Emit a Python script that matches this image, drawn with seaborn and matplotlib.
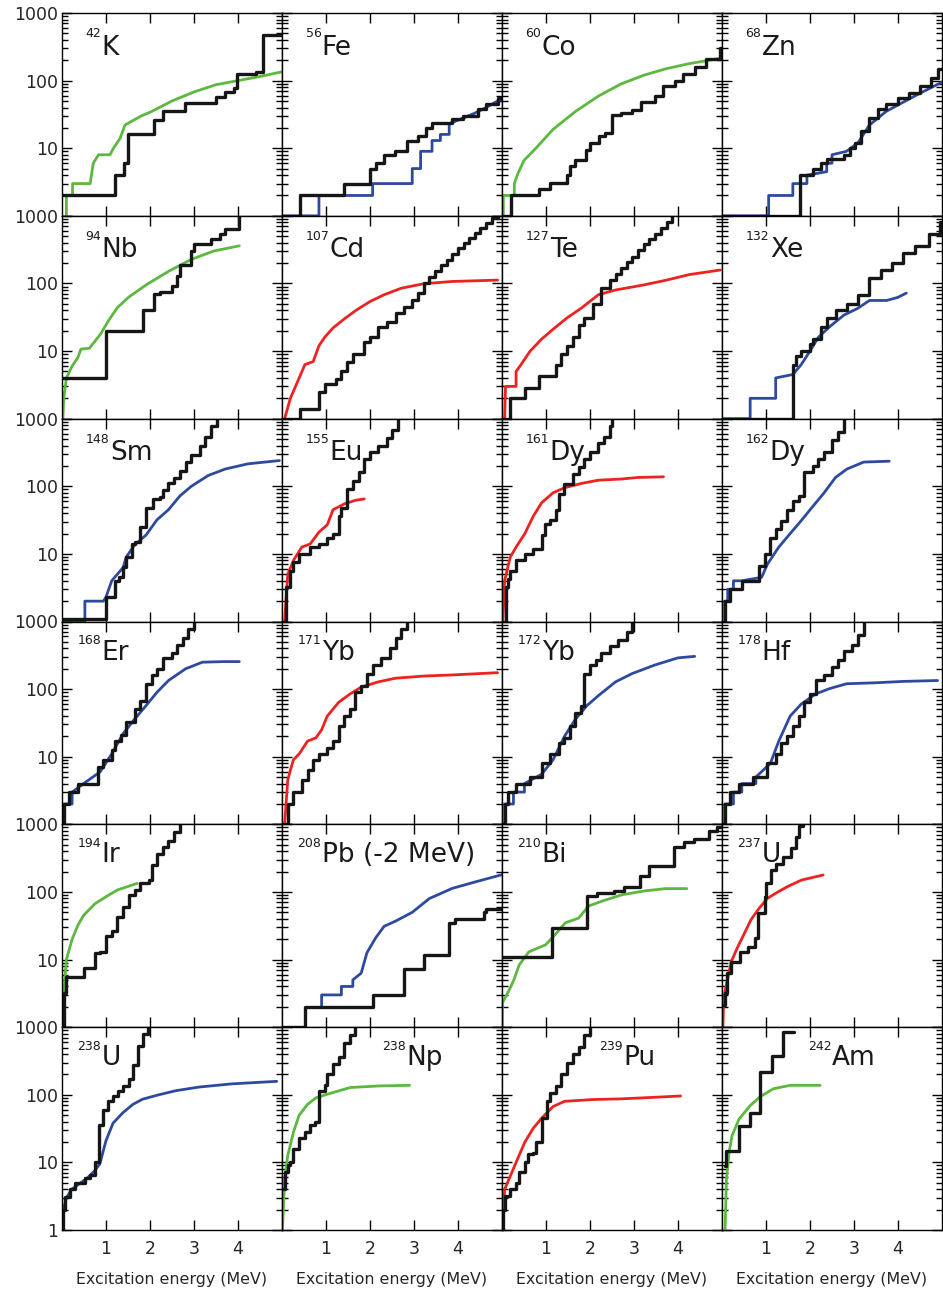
import numpy as np
import matplotlib
matplotlib.use("Agg")
import matplotlib.pyplot as plt
import seaborn as sns
from matplotlib.ticker import FixedLocator, LogLocator, NullFormatter

sns.set_style("ticks")
plt.rcParams['font.family'] = ['DejaVu Sans']

# ---------------- data: cumulative number of levels N(E) ----------------
# experimental (black staircases) and model (coloured curves)
K42_exp_E = [0, 1.2, 1.4, 1.49, 2.1, 2.3, 2.8, 3.5, 3.7, 3.9, 3.98, 4.4, 4.57, 5.0]
K42_exp_N = [2, 4, 6, 16, 26, 36, 47, 57, 68, 78, 124, 135, 480, 480]
K42_th_E = [0.1, 0.1, 0.24, 0.24, 0.64, 0.71, 0.83, 1.09, 1.17, 1.32, 1.43, 1.58, 1.8, 2.0, 2.5, 3.0, 3.5, 4.0, 4.5, 5.0]
K42_th_N = [1, 2, 2, 3, 3, 6, 8, 8, 10, 14, 22, 25, 30, 34, 50, 68, 87, 100, 115, 135]

Fe56_exp_E = [0, 0.41, 1.42, 2.0, 2.13, 2.32, 2.57, 2.83, 3.1, 3.28, 3.41, 3.86, 4.12, 4.45, 4.64, 4.9, 5.0]
Fe56_exp_N = [1, 2, 3, 5, 6, 8, 9, 13, 15, 20, 24, 27, 30, 38, 45, 55, 55]
Fe56_th_E = [0, 0.84, 0.84, 2.06, 2.06, 2.96, 2.96, 3.15, 3.15, 3.41, 3.41, 3.6, 3.6, 3.8, 3.8, 4.12, 4.38, 4.64, 4.9, 5.0]
Fe56_th_N = [1, 1, 2, 2, 3, 3, 5, 5, 9, 9, 13, 13, 16, 16, 23, 28, 33, 40, 50, 52]

Co60_exp_E = [0, 0.2, 0.84, 1.1, 1.48, 1.55, 1.67, 1.9, 2.0, 2.2, 2.35, 2.51, 2.7, 2.96, 3.15, 3.47, 3.67, 3.93, 4.12, 4.38, 4.64, 4.95, 5.0]
Co60_exp_N = [1, 2, 2.5, 3.1, 4, 5.5, 6.6, 9.3, 12, 15, 17, 31, 33, 37, 48, 60, 82, 100, 125, 160, 210, 300, 300]
Co60_th_E = [0.03, 0.03, 0.28, 0.28, 0.36, 0.5, 0.77, 1.16, 1.67, 2.19, 2.7, 3.22, 3.73, 4.25, 4.95]
Co60_th_N = [1, 2, 2, 3, 4.2, 6.6, 10, 19, 35, 59, 89, 120, 150, 178, 213]

Zn68_exp_E = [0, 1.78, 2.06, 2.25, 2.38, 2.77, 2.9, 3.02, 3.15, 3.35, 3.54, 3.73, 3.99, 4.25, 4.5, 4.76, 4.9, 5.0]
Zn68_exp_N = [1, 4, 5, 6, 7, 8, 10, 12, 18, 28, 38, 45, 55, 65, 84, 110, 150, 150]
Zn68_th_E = [0, 1.06, 1.06, 1.61, 1.61, 1.93, 1.93, 2.38, 2.38, 2.5, 2.5, 2.83, 3.09, 3.35, 3.73, 4.12, 4.5, 5.0]
Zn68_th_N = [1, 1, 2, 2, 3, 3, 4, 4.5, 6, 6, 8, 9, 12, 22, 35, 48, 65, 95]

Nb94_exp_E = [0, 1.0, 1.84, 2.1, 2.23, 2.49, 2.62, 2.68, 2.94, 3.0, 3.39, 3.58, 3.71, 4.03]
Nb94_exp_N = [4, 20, 40, 69, 75, 93, 130, 190, 300, 380, 450, 540, 640, 1100]
Nb94_th_E = [0.02, 0.04, 0.1, 0.23, 0.36, 0.43, 0.62, 0.75, 0.88, 1.07, 1.26, 1.52, 1.91, 2.42, 2.94, 3.45, 4.03]
Nb94_th_N = [1, 2, 4, 6, 8, 10.7, 11, 14, 18, 29, 44, 63, 95, 151, 227, 302, 360]

Cd107_exp_E = [0, 0.41, 0.84, 0.97, 1.22, 1.35, 1.48, 1.61, 1.87, 2.0, 2.19, 2.38, 2.58, 2.77, 2.96, 3.09, 3.22, 3.35, 3.48, 3.61, 3.74, 3.87, 4.0, 4.13, 4.25, 4.38, 4.51, 4.64, 4.77, 4.9]
Cd107_exp_N = [1, 1.4, 2.5, 3.3, 3.8, 5, 6.8, 9, 13.5, 16, 23, 27, 36, 45, 57, 72, 100, 125, 155, 185, 225, 275, 335, 400, 470, 560, 650, 780, 920, 1100]
Cd107_th_E = [0.06, 0.19, 0.39, 0.52, 0.71, 0.84, 0.97, 1.16, 1.42, 1.68, 2.0, 2.32, 2.71, 3.22, 3.87, 4.9]
Cd107_th_N = [1, 2, 4, 6.3, 7, 12, 16, 22, 30, 40, 54, 68, 85, 99, 107, 112]

Te127_exp_E = [0, 0.19, 0.52, 0.84, 1.22, 1.35, 1.48, 1.61, 1.74, 1.87, 2.06, 2.26, 2.45, 2.58, 2.71, 2.84, 2.96, 3.09, 3.22, 3.35, 3.48, 3.61, 3.74, 3.87]
Te127_exp_N = [1, 2, 2.8, 4.3, 6.2, 9, 12, 16, 24, 31, 50, 85, 114, 140, 170, 205, 250, 310, 380, 450, 540, 650, 800, 1100]
Te127_th_E = [0.06, 0.08, 0.32, 0.32, 0.41, 0.64, 0.9, 1.16, 1.48, 1.8, 2.19, 2.58, 3.22, 3.74, 4.25, 4.96]
Te127_th_N = [1, 3, 3, 5, 6, 10, 15, 21, 31, 43, 68, 80, 95, 112, 135, 158]

Xe132_exp_E = [0, 1.61, 1.68, 1.8, 2.0, 2.06, 2.26, 2.38, 2.58, 2.84, 3.09, 3.35, 3.61, 3.87, 4.12, 4.38, 4.7, 4.96, 5.0]
Xe132_exp_N = [1, 6.3, 8.5, 10, 12.6, 15, 23, 31, 40, 50, 68, 120, 160, 200, 280, 355, 540, 800, 800]
Xe132_th_E = [0, 0.64, 0.64, 1.22, 1.22, 1.61, 1.8, 2.0, 2.19, 2.45, 2.77, 3.09, 3.35, 3.74, 3.99, 4.19]
Xe132_th_N = [1, 1, 2, 2, 4, 4.5, 6.3, 10, 16, 23, 34, 43, 56, 56, 62, 72]

Sm148_exp_E = [0, 1.0, 1.2, 1.29, 1.39, 1.46, 1.58, 1.65, 1.78, 1.91, 2.06, 2.23, 2.29, 2.42, 2.55, 2.68, 2.81, 2.94, 3.13, 3.26, 3.39, 3.52]
Sm148_exp_N = [1.1, 2.3, 4, 4.5, 6.3, 9, 14, 15, 25, 48, 65, 70, 89, 113, 134, 170, 228, 288, 400, 540, 770, 1100]
Sm148_th_E = [0, 0.52, 0.52, 0.94, 1.0, 1.13, 1.39, 1.46, 1.65, 1.91, 2.16, 2.42, 2.68, 2.94, 3.32, 3.71, 4.23, 4.94]
Sm148_th_N = [1, 1, 2, 2, 2.3, 4, 6.3, 9, 13.5, 19, 32, 45, 72, 100, 144, 180, 215, 240]

Eu155_exp_E = [0, 0.1, 0.19, 0.26, 0.39, 0.64, 0.84, 1.03, 1.16, 1.29, 1.35, 1.48, 1.61, 1.74, 1.87, 2.0, 2.19, 2.38, 2.51, 2.64]
Eu155_exp_N = [1, 3.2, 5.6, 7.5, 10, 12.6, 14, 17, 20, 36, 48, 90, 120, 160, 250, 320, 400, 510, 680, 1100]
Eu155_th_E = [0.06, 0.13, 0.26, 0.45, 0.64, 0.84, 1.03, 1.16, 1.42, 1.67, 1.87]
Eu155_th_N = [1, 5, 8, 12.6, 14, 21, 27, 45, 55, 62, 65]

Dy161_exp_E = [0, 0.1, 0.13, 0.19, 0.32, 0.52, 0.71, 0.9, 0.97, 1.1, 1.22, 1.29, 1.42, 1.61, 1.74, 1.87, 2.0, 2.19, 2.32, 2.45, 2.51]
Dy161_exp_N = [1, 3.2, 4.2, 5.6, 8, 10, 12, 19, 28, 32, 45, 76, 107, 150, 190, 254, 320, 430, 540, 770, 1100]
Dy161_th_E = [0.02, 0.06, 0.13, 0.19, 0.32, 0.52, 0.71, 0.9, 1.16, 1.42, 1.8, 2.19, 2.71, 3.09, 3.67]
Dy161_th_N = [1, 4, 6.3, 9, 12.6, 20, 36, 57, 80, 95, 110, 123, 128, 135, 138]

Dy162_exp_E = [0, 0.06, 0.19, 0.45, 0.84, 0.97, 1.1, 1.22, 1.35, 1.48, 1.61, 1.74, 1.87, 2.06, 2.19, 2.32, 2.51, 2.64, 2.77]
Dy162_exp_N = [1, 2, 3, 4, 6.6, 10, 17, 23, 31, 45, 60, 72, 160, 200, 250, 320, 480, 640, 1100]
Dy162_th_E = [0.06, 0.06, 0.13, 0.13, 0.26, 0.26, 0.45, 0.9, 1.03, 1.29, 1.55, 1.8, 2.06, 2.32, 2.58, 2.84, 3.22, 3.8]
Dy162_th_N = [1, 2, 2, 3, 3, 4, 4, 4.5, 7, 12.6, 20, 31, 50, 80, 135, 180, 228, 235]

Er168_exp_E = [0, 0.04, 0.17, 0.36, 0.81, 0.94, 1.13, 1.2, 1.33, 1.46, 1.65, 1.78, 1.91, 2.04, 2.16, 2.29, 2.49, 2.62, 2.74, 2.87, 3.0]
Er168_exp_N = [1, 2, 3, 4, 7, 9, 12.6, 17, 21, 33, 50, 67, 120, 160, 200, 290, 340, 455, 575, 770, 1100]
Er168_th_E = [0.04, 0.04, 0.23, 0.23, 0.49, 0.87, 1.13, 1.39, 1.65, 1.91, 2.16, 2.42, 2.81, 3.19, 3.65, 4.03]
Er168_th_N = [1, 2, 2, 3, 4, 6, 11, 22, 36, 57, 90, 134, 200, 250, 255, 255]

Yb171_exp_E = [0, 0.13, 0.26, 0.45, 0.58, 0.71, 0.84, 1.03, 1.16, 1.29, 1.42, 1.55, 1.67, 1.8, 1.93, 2.06, 2.26, 2.45, 2.58, 2.71, 2.84]
Yb171_exp_N = [1, 2, 3, 4.5, 6.3, 9, 11, 13.5, 17, 28, 40, 50, 90, 113, 170, 228, 290, 400, 575, 770, 1100]
Yb171_th_E = [0.06, 0.13, 0.19, 0.26, 0.39, 0.58, 0.77, 0.9, 1.03, 1.29, 1.55, 1.8, 2.19, 2.58, 3.22, 3.87, 4.9]
Yb171_th_N = [1, 4.5, 6.3, 9, 11, 17, 19, 25, 40, 64, 85, 107, 128, 145, 156, 162, 175]

Yb172_exp_E = [0, 0.06, 0.13, 0.32, 0.64, 0.9, 1.1, 1.29, 1.42, 1.55, 1.67, 1.8, 1.87, 2.0, 2.13, 2.26, 2.45, 2.64, 2.84, 2.96]
Yb172_exp_N = [1, 2, 3, 4, 5, 8, 11, 16, 19, 28, 45, 57, 170, 228, 270, 340, 430, 540, 700, 1100]
Yb172_th_E = [0.06, 0.06, 0.26, 0.26, 0.51, 0.51, 0.9, 1.16, 1.42, 1.67, 1.93, 2.19, 2.58, 2.96, 3.48, 4.0, 4.38]
Yb172_th_N = [1, 2, 2, 3, 3, 4, 5.5, 9, 20, 36, 57, 80, 128, 170, 228, 290, 305]

Hf178_exp_E = [0, 0.06, 0.19, 0.39, 0.71, 1.03, 1.22, 1.35, 1.48, 1.61, 1.74, 1.87, 2.0, 2.13, 2.32, 2.51, 2.64, 2.77, 2.96, 3.09, 3.22]
Hf178_exp_N = [1, 2, 3, 4, 5, 8, 11, 16, 20, 28, 40, 64, 85, 135, 160, 215, 270, 360, 455, 640, 1100]
Hf178_th_E = [0.06, 0.06, 0.26, 0.26, 0.45, 0.45, 0.77, 0.77, 1.1, 1.29, 1.55, 1.8, 2.13, 2.45, 2.83, 3.48, 4.12, 4.9]
Hf178_th_N = [1, 2, 2, 3, 3, 4, 4, 5, 8, 17, 40, 60, 85, 102, 120, 124, 130, 134]

Ir194_exp_E = [0, 0.04, 0.1, 0.49, 0.75, 0.87, 1.0, 1.13, 1.26, 1.39, 1.52, 1.65, 1.78, 1.97, 2.04, 2.16, 2.29, 2.42, 2.55, 2.68]
Ir194_exp_N = [1, 3.2, 5.6, 7.5, 12.6, 13, 22, 26, 42, 60, 90, 107, 134, 150, 250, 360, 455, 575, 770, 1100]
Ir194_th_E = [0.02, 0.04, 0.1, 0.23, 0.36, 0.49, 0.75, 1.0, 1.26, 1.71]
Ir194_th_N = [1, 3.2, 10, 20, 32, 45, 67, 85, 107, 134]

Pb208_exp_E = [0, 0.52, 2.06, 2.77, 3.22, 3.8, 3.93, 4.58, 4.64, 5.0]
Pb208_exp_N = [1, 2, 3, 7.2, 11.5, 35, 40, 51, 56, 56]
Pb208_th_E = [0.9, 0.9, 1.35, 1.35, 1.61, 1.61, 1.8, 1.93, 2.13, 2.32, 2.58, 2.96, 3.35, 3.87, 4.38, 5.0]
Pb208_th_N = [2, 3, 3, 4, 4, 5, 6.3, 12.6, 21, 31, 37, 50, 80, 113, 140, 180]

Bi210_exp_E = [0, 1.14, 1.93, 2.16, 2.55, 2.77, 3.14, 3.33, 3.9, 4.13, 4.36, 4.7, 4.89, 5.0]
Bi210_exp_N = [11, 29.5, 87, 95, 104, 118, 170, 240, 470, 555, 610, 790, 900, 900]
Bi210_th_E = [0.01, 0.01, 0.16, 0.27, 0.39, 0.61, 0.99, 1.21, 1.44, 1.74, 1.97, 2.27, 2.73, 3.26, 3.72, 4.2]
Bi210_th_N = [1, 2.3, 3.5, 5, 8.3, 13, 16.5, 23.5, 35, 41, 62, 73, 91, 104, 112, 112]

U237_exp_E = [0.03, 0.06, 0.12, 0.21, 0.4, 0.59, 0.74, 0.82, 0.97, 1.0, 1.12, 1.23, 1.38, 1.57, 1.68, 1.76, 1.84]
U237_exp_N = [2.1, 3.2, 6.3, 9.3, 13, 15.5, 21, 49, 85, 135, 210, 260, 330, 440, 660, 930, 1100]
U237_th_E = [0.02, 0.04, 0.1, 0.21, 0.36, 0.51, 0.66, 0.85, 1.04, 1.27, 1.5, 1.81, 2.3]
U237_th_N = [1, 2.7, 4.3, 9.3, 15.5, 24.5, 39, 58, 81, 100, 121, 150, 178]

U238_exp_E = [0, 0.03, 0.07, 0.18, 0.29, 0.52, 0.63, 0.74, 0.84, 0.93, 1.05, 1.16, 1.27, 1.38, 1.53, 1.61, 1.72, 1.83, 1.95]
U238_exp_N = [1, 2, 3.1, 4.1, 5, 5.8, 6.5, 10, 36, 60, 81, 96, 115, 137, 174, 277, 525, 790, 1100]
U238_th_E = [0.01, 0.03, 0.1, 0.22, 0.41, 0.59, 0.74, 0.86, 1.0, 1.16, 1.38, 1.61, 1.83, 2.2, 2.59, 3.11, 3.86, 4.88]
U238_th_N = [1, 2, 3, 4, 4.9, 6, 7.5, 9.5, 21, 38, 54, 72, 86, 100, 115, 130, 145, 158]

Np238_exp_E = [0.04, 0.06, 0.13, 0.19, 0.26, 0.39, 0.52, 0.64, 0.75, 0.84, 0.97, 1.03, 1.16, 1.29, 1.42, 1.55, 1.65]
Np238_exp_N = [4, 7.2, 9, 10, 16, 23, 28, 36, 40, 113, 140, 200, 290, 360, 575, 770, 1100]
Np238_th_E = [0.01, 0.06, 0.13, 0.26, 0.39, 0.58, 0.77, 1.03, 1.55, 2.19, 2.9]
Np238_th_N = [1, 5.6, 12.6, 28, 50, 72, 90, 102, 128, 135, 138]

Pu239_exp_E = [0.02, 0.03, 0.06, 0.19, 0.32, 0.39, 0.52, 0.58, 0.71, 0.77, 0.9, 1.03, 1.1, 1.22, 1.35, 1.48, 1.61, 1.74, 1.87, 2.0]
Pu239_exp_N = [1, 2, 3.2, 4, 5, 7.2, 10, 13.5, 14, 20, 45, 80, 107, 134, 200, 300, 400, 510, 770, 1100]
Pu239_th_E = [0.01, 0.06, 0.19, 0.32, 0.52, 0.71, 0.9, 1.16, 1.42, 2.06, 2.7, 3.35, 4.06]
Pu239_th_N = [1, 4, 6.3, 10, 20, 32, 45, 67, 80, 85, 87, 91, 96]

Am242_exp_E = [0.07, 0.1, 0.39, 0.64, 0.86, 1.13, 1.38, 1.64]
Am242_exp_N = [8.8, 14.8, 35, 53, 218, 370, 850, 850]
Am242_th_E = [0.07, 0.1, 0.16, 0.23, 0.39, 0.64, 0.86, 1.17, 1.55, 2.23]
Am242_th_N = [1, 5.6, 14, 25, 44, 69, 93, 123, 138, 138]

masses = ['42', '56', '60', '68', '94', '107', '127', '132', '148', '155', '161', '162',
          '168', '171', '172', '178', '194', '208', '210', '237', '238', '238', '239', '242']
symbols = ['K', 'Fe', 'Co', 'Zn', 'Nb', 'Cd', 'Te', 'Xe', 'Sm', 'Eu', 'Dy', 'Dy',
           'Er', 'Yb', 'Yb', 'Hf', 'Ir', 'Pb (-2 MeV)', 'Bi', 'U', 'U', 'Np', 'Pu', 'Am']
model_kind = ['g', 'b', 'g', 'b', 'g', 'r', 'r', 'b', 'b', 'r', 'r', 'b',
              'b', 'r', 'b', 'b', 'g', 'b', 'g', 'r', 'b', 'g', 'r', 'g']
y_tick_labels = ['1', '10', '100', '1000']
x_tick_values = [1, 2, 3, 4]

exp_data = [(K42_exp_E, K42_exp_N), (Fe56_exp_E, Fe56_exp_N), (Co60_exp_E, Co60_exp_N), (Zn68_exp_E, Zn68_exp_N),
            (Nb94_exp_E, Nb94_exp_N), (Cd107_exp_E, Cd107_exp_N), (Te127_exp_E, Te127_exp_N), (Xe132_exp_E, Xe132_exp_N),
            (Sm148_exp_E, Sm148_exp_N), (Eu155_exp_E, Eu155_exp_N), (Dy161_exp_E, Dy161_exp_N), (Dy162_exp_E, Dy162_exp_N),
            (Er168_exp_E, Er168_exp_N), (Yb171_exp_E, Yb171_exp_N), (Yb172_exp_E, Yb172_exp_N), (Hf178_exp_E, Hf178_exp_N),
            (Ir194_exp_E, Ir194_exp_N), (Pb208_exp_E, Pb208_exp_N), (Bi210_exp_E, Bi210_exp_N), (U237_exp_E, U237_exp_N),
            (U238_exp_E, U238_exp_N), (Np238_exp_E, Np238_exp_N), (Pu239_exp_E, Pu239_exp_N), (Am242_exp_E, Am242_exp_N)]
th_data = [(K42_th_E, K42_th_N), (Fe56_th_E, Fe56_th_N), (Co60_th_E, Co60_th_N), (Zn68_th_E, Zn68_th_N),
           (Nb94_th_E, Nb94_th_N), (Cd107_th_E, Cd107_th_N), (Te127_th_E, Te127_th_N), (Xe132_th_E, Xe132_th_N),
           (Sm148_th_E, Sm148_th_N), (Eu155_th_E, Eu155_th_N), (Dy161_th_E, Dy161_th_N), (Dy162_th_E, Dy162_th_N),
           (Er168_th_E, Er168_th_N), (Yb171_th_E, Yb171_th_N), (Yb172_th_E, Yb172_th_N), (Hf178_th_E, Hf178_th_N),
           (Ir194_th_E, Ir194_th_N), (Pb208_th_E, Pb208_th_N), (Bi210_th_E, Bi210_th_N), (U237_th_E, U237_th_N),
           (U238_th_E, U238_th_N), (Np238_th_E, Np238_th_N), (Pu239_th_E, Pu239_th_N), (Am242_th_E, Am242_th_N)]

# ---------------- style ----------------
colors = {'g': '#5cb83e', 'b': '#2e4a9e', 'r': '#ec2320'}
black = '#161616'
label_x = [0.107] * 12 + [0.07] * 8 + [0.07, 0.455, 0.44, 0.39]
label_y = [0.795] * 12 + [0.812] * 12
sup_dy = [0.085] * 12 + [0.075] * 12
sup_size = 9

fig, axes = plt.subplots(6, 4, figsize=(9.43, 12.94), dpi=100)
fig.subplots_adjust(left=62 / 943, right=942 / 943, top=1 - 13 / 1294,
                    bottom=1 - 1230 / 1294, wspace=0, hspace=0)

for i, ax in enumerate(axes.flat):
    r, c = divmod(i, 4)
    ax.set_yscale('log')
    eE, eN = exp_data[i]
    tE, tN = th_data[i]
    sns.lineplot(x=tE, y=tN, ax=ax, color=colors[model_kind[i]], lw=2.0,
                 estimator=None, sort=False, legend=False)
    sns.lineplot(x=eE, y=eN, ax=ax, color=black, lw=2.4, drawstyle='steps-post',
                 estimator=None, sort=False, legend=False)
    ax.set_xlim(0, 5)
    ax.set_ylim(1, 1000)
    ax.set_xticks(x_tick_values)
    ax.yaxis.set_major_locator(FixedLocator([1, 10, 100, 1000]))
    ax.yaxis.set_minor_locator(LogLocator(base=10, subs=np.arange(2, 10), numticks=20))
    ax.yaxis.set_minor_formatter(NullFormatter())
    ax.tick_params(which='both', direction='in', top=True, right=True, width=1.0,
                   labelsize=12.5, color='black')
    ax.tick_params(which='major', length=7.5)
    ax.tick_params(which='minor', length=4.5)
    ax.tick_params(axis='x', pad=7)
    ax.tick_params(axis='y', pad=2.5)
    for sp in ax.spines.values():
        sp.set_linewidth(1.0)
        sp.set_color('black')
    if c == 0:
        labs = list(y_tick_labels)
        if r < 5:
            labs[0] = ''
        ax.set_yticklabels(labs)
    else:
        ax.tick_params(labelleft=False)
    if r < 5:
        ax.tick_params(labelbottom=False)
        ax.set_xlabel('')
    else:
        ax.set_xlabel('Excitation energy (MeV)', fontsize=11.4, labelpad=10)
    ax.set_ylabel('')
    # isotope label: superscript mass number + symbol
    xs, yb = label_x[i], label_y[i]
    ax.text(xs, yb + sup_dy[i], masses[i], transform=ax.transAxes, fontsize=sup_size,
            ha='left', va='baseline', color='#1a1a1a')
    w = len(masses[i]) * 0.636 * sup_size + 0.3
    ax.annotate(symbols[i], xy=(xs, yb), xycoords='axes fraction', xytext=(w, 0),
                textcoords='offset points', fontsize=19, ha='left', va='baseline',
                color='#1a1a1a')

fig.savefig('out.png', dpi=100)
